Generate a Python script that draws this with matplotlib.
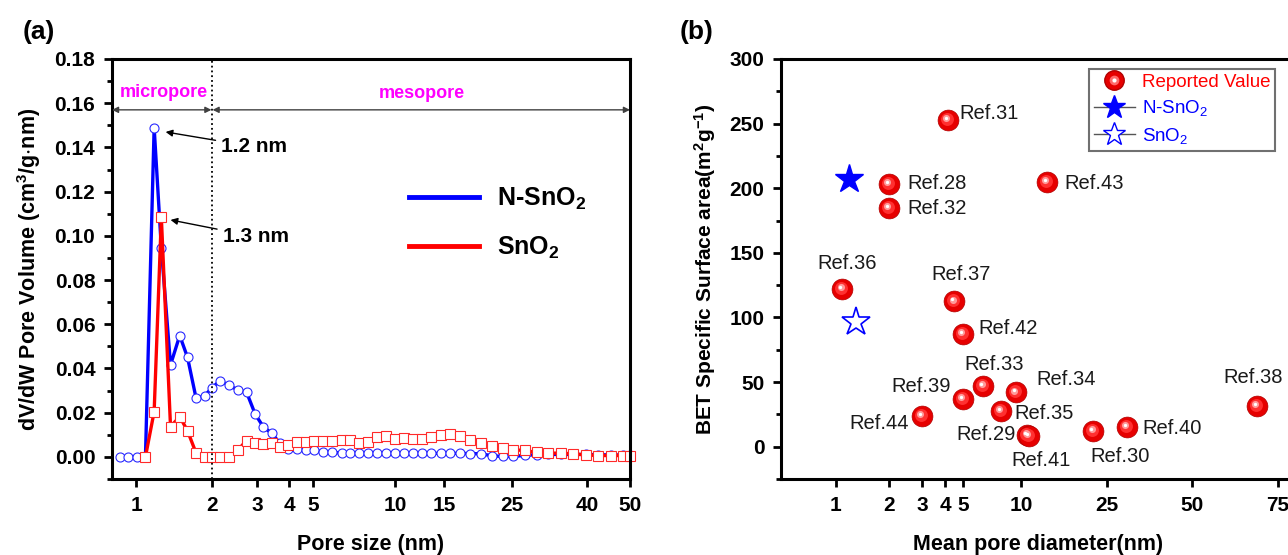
import numpy as np
import matplotlib
matplotlib.use("Agg")
import matplotlib.pyplot as plt
from matplotlib.lines import Line2D
from matplotlib.transforms import offset_copy
from matplotlib.legend_handler import HandlerTuple

plt.rcParams['font.family'] = ['Liberation Sans', 'DejaVu Sans']
plt.rcParams['mathtext.default'] = 'regular'

# ---- (a) pore size distribution ----
pore_size = [0.86, 0.93, 1.01, 1.09, 1.18, 1.26, 1.37, 1.49, 1.60, 1.73, 1.87, 2.00,
             2.15, 2.34, 2.52, 2.73, 2.95, 3.17, 3.42, 3.69, 3.98, 4.32, 4.69, 5.04,
             5.46, 5.87, 6.37, 6.84, 7.38, 7.96, 8.59, 9.27, 10.0, 10.8, 11.6, 12.5,
             13.5, 14.6, 15.7, 16.9, 18.2, 19.8, 21.5, 23.4, 25.2, 27.1, 29.2, 31.3,
             34.0, 36.6, 39.8, 42.4, 45.2, 48.2, 50.0]
dv_nsno2 = [0, 0, 0, 0, 0.149, 0.0945, 0.0416, 0.0549, 0.045, 0.0265, 0.0276, 0.0313,
            0.0344, 0.0323, 0.0303, 0.0293, 0.0194, 0.0137, 0.0107, 0.0062, 0.0036, 0.0036,
            0.0032, 0.0030, 0.0024, 0.0020, 0.0018, 0.0017, 0.0016, 0.0016, 0.0016, 0.0016,
            0.0016, 0.0016, 0.0016, 0.0016, 0.0016, 0.0016, 0.0016, 0.0016, 0.0015, 0.0014,
            0.0005, 0.0002, 0.0002, 0.0007, 0.0010, 0.0011, 0.0011, 0.0011, 0.0011, 0.0010,
            0.0009, 0.0009, 0.0009]
dv_sno2 = [0.0, 0.0205, 0.1084, 0.0137, 0.0182, 0.0118, 0.0017, 0.0, 0.0, 0.0, 0.0,
           0.003, 0.0074, 0.0065, 0.0059, 0.0062, 0.0044, 0.0054, 0.0069, 0.0069, 0.0074,
           0.0074, 0.0074, 0.0077, 0.0077, 0.0065, 0.0069, 0.0092, 0.0095, 0.008, 0.0084,
           0.008, 0.008, 0.0092, 0.0099, 0.0104, 0.0096, 0.0077, 0.0062, 0.0051, 0.0039,
           0.0032, 0.0029, 0.002, 0.0017, 0.0017, 0.0014, 0.0009, 0.0006, 0.0006, 0.0006,
           0.0006]

a_ticks = [1, 2, 3, 4, 5, 10, 15, 25, 40, 50]
# the x axis of (a) is not a plain log axis: anchor values and where they sit
a_scale_vals = [0.8, 1, 2, 3, 4, 5, 10, 15, 25, 40, 50]
a_scale_pos = [112, 136, 212, 257, 289, 313, 395, 444, 512, 587, 630]

# ---- (b) BET area vs mean pore diameter ----
refs = ['Ref.28', 'Ref.29', 'Ref.30', 'Ref.31', 'Ref.32', 'Ref.33', 'Ref.34', 'Ref.35',
        'Ref.36', 'Ref.37', 'Ref.38', 'Ref.39', 'Ref.40', 'Ref.41', 'Ref.42', 'Ref.43',
        'Ref.44']
mean_pore = [2.0, 10.7, 21.6, 4.14, 2.0, 6.37, 9.42, 7.85, 1.09, 4.49, 68, 5.0, 29.4,
             10.9, 5.0, 13.15, 3.0]
bet_area = [203.6, 9.0, 12.4, 252.7, 185, 47.3, 42.1, 27.9, 122.2, 112.6, 31.8, 37,
            15.5, 8.5, 87.4, 204.9, 24]
nsno2_pt = (1.19, 207.5)
sno2_pt = (1.30, 96.4)

b_ticks = [1, 2, 3, 4, 5, 10, 25, 50, 75]
b_scale_vals = [0.5, 1, 2, 3, 4, 5, 10, 25, 50, 75, 80]
b_scale_pos = [781, 835.7, 889, 922, 945, 963, 1021, 1107, 1192, 1277.5, 1295]

# label offsets in pixels (dx, dy, ha)
label_off = {
    'Ref.31': (12, 7, 'left'), 'Ref.28': (18, 0, 'left'), 'Ref.32': (18, -1, 'left'),
    'Ref.43': (18, -2, 'left'), 'Ref.36': (5, 25, 'center'), 'Ref.37': (7, 27, 'center'),
    'Ref.42': (15, 5, 'left'), 'Ref.33': (11, 21, 'center'), 'Ref.34': (20, 13, 'left'),
    'Ref.39': (-12, 12, 'right'), 'Ref.44': (-13, -8, 'right'), 'Ref.35': (14, -3, 'left'),
    'Ref.29': (-12, 1, 'right'), 'Ref.41': (12, -25, 'center'), 'Ref.30': (27, -26, 'center'),
    'Ref.40': (15, -2, 'left'), 'Ref.38': (-4, 28, 'center'),
}


def make_scale(vals, pos):
    lv = np.log10(vals)
    p = np.array(pos, float)

    def fwd(x):
        x = np.asarray(x, float)
        return np.interp(np.log10(np.clip(x, 1e-6, None)), lv, p)

    def inv(y):
        return 10 ** np.interp(y, p, lv)
    return fwd, inv


def style_axes(ax):
    for s in ax.spines.values():
        s.set_linewidth(2.2)
    ax.tick_params(direction='out', length=6, width=2, labelsize=15, pad=6)
    ax.tick_params(which='minor', direction='out', length=3.5, width=2)
    for lab in ax.get_xticklabels() + ax.get_yticklabels():
        lab.set_fontweight('bold')


fig = plt.figure(figsize=(12.88, 5.55), dpi=100)
W, H = 1288, 555

# ================= (a) =================
ax1 = fig.add_axes([112 / W, 1 - 479 / H, (630 - 112) / W, (479 - 59) / H])
ax1.set_xscale('function', functions=make_scale(a_scale_vals, a_scale_pos))
ax1.set_xlim(0.8, 50)
ax1.set_ylim(-0.01, 0.18)

ax1.plot(pore_size, dv_nsno2, '-', color='#0000ff', lw=2.4, marker='o', ms=6.5,
         mfc='white', mec='#2a2aff', mew=0.8, clip_on=False, label='N-SnO$_2$')
ax1.plot(pore_size[3:], dv_sno2, '-', color='#ff0000', lw=2.4, marker='s', ms=6.5,
         mfc='white', mec='#ff2a2a', mew=0.8, clip_on=False, label='SnO$_2$')

ax1.axvline(2, color='black', ls=':', lw=1.3)
arrow_kw = dict(arrowstyle='<|-|>', color='#404040', lw=1, mutation_scale=9,
                shrinkA=0, shrinkB=0)
ax1.annotate('', xy=(0.8, 0.157), xytext=(1.99, 0.157), arrowprops=arrow_kw)
ax1.annotate('', xy=(2.01, 0.157), xytext=(50, 0.157), arrowprops=arrow_kw)
ax1.text(1.29, 0.165, 'micropore', color='#ff00ff', fontsize=13, fontweight='bold',
         ha='center', va='center')
ax1.text(12.5, 0.1646, 'mesopore', color='#ff00ff', fontsize=13, fontweight='bold',
         ha='center', va='center')

ann_kw = dict(arrowstyle='-|>', color='black', lw=1, mutation_scale=10, shrinkA=2, shrinkB=0)
ax1.annotate('1.2 nm', xy=(1.31, 0.147), xytext=(2.17, 0.1403), fontsize=15,
             fontweight='bold', ha='left', va='center', arrowprops=ann_kw)
ax1.annotate('1.3 nm', xy=(1.37, 0.1072), xytext=(2.2, 0.0996), fontsize=15,
             fontweight='bold', ha='left', va='center', arrowprops=ann_kw)

leg1 = ax1.legend(handles=[Line2D([0], [0], color='#0000ff', lw=3.5),
                           Line2D([0], [0], color='#ff0000', lw=3.5)],
                  labels=['N-SnO$_2$', 'SnO$_2$'], loc='upper left',
                  bbox_to_anchor=(0.53, 0.752), frameon=False, handlelength=2.8,
                  handletextpad=0.7, labelspacing=0.9,
                  prop={'size': 18, 'weight': 'bold'})

ax1.set_xticks(a_ticks)
ax1.set_xticklabels([str(t) for t in a_ticks])
ax1.xaxis.set_minor_locator(matplotlib.ticker.NullLocator())
ax1.set_yticks(np.arange(0, 0.181, 0.02))
ax1.yaxis.set_major_formatter(matplotlib.ticker.FormatStrFormatter('%.2f'))
ax1.yaxis.set_minor_locator(matplotlib.ticker.MultipleLocator(0.01))
ax1.set_xlabel('Pore size (nm)', fontsize=15.5, fontweight='bold', labelpad=14)
ax1.set_ylabel('dV/dW Pore Volume (cm$^3$/g$\\cdot$nm)', fontsize=15.5,
               fontweight='bold', labelpad=8)
style_axes(ax1)
fig.text(23 / W, 1 - 32 / H, '(a)', fontsize=19, fontweight='bold', va='center')

# ================= (b) =================
ax2 = fig.add_axes([781 / W, 1 - 479 / H, (1295 - 781) / W, (479 - 59) / H])
ax2.set_xscale('function', functions=make_scale(b_scale_vals, b_scale_pos))
ax2.set_xlim(0.5, 80)
ax2.set_ylim(-25, 300)

ms = 15
ax2.scatter(mean_pore, bet_area, s=ms ** 2, color='#e60000', edgecolors='#b00000',
            linewidths=0.5, zorder=3)
shade = [(0.62, '#ff3030', -0.7, 0.7), (0.34, '#ff9a9a', -1.2, 1.2),
         (0.16, '#ffffff', -1.4, 1.4)]
for frac, col, dx, dy in shade:
    tr = offset_copy(ax2.transData, fig=fig, x=dx, y=dy, units='points')
    ax2.scatter(mean_pore, bet_area, s=(ms * frac) ** 2, color=col, linewidths=0,
                transform=tr, zorder=4)

ax2.plot(*nsno2_pt, marker='*', ms=21, color='#0000ff', ls='none', zorder=5)
ax2.plot(*sno2_pt, marker='*', ms=21, mfc='white', mec='#0000ff', mew=1.2,
         ls='none', zorder=5)

for name, x, y in zip(refs, mean_pore, bet_area):
    dx, dy, ha = label_off[name]
    ax2.annotate(name, xy=(x, y), xytext=(dx, dy), textcoords='offset pixels',
                 ha=ha, va='center', fontsize=14.5, color='#1a1a1a')

h_ref = (Line2D([0], [0], ls='none', marker='o', ms=14, mfc='#e60000', mec='#b00000'),
         Line2D([0], [0], ls='none', marker='o', ms=7, mfc='#ff6a6a', mec='none'),
         Line2D([0], [0], ls='none', marker='o', ms=3, mfc='white', mec='none'))
h_n = Line2D([0], [0], color='#555555', lw=1, marker='*', ms=17, mfc='#0000ff', mec='#0000ff')
h_s = Line2D([0], [0], color='#555555', lw=1, marker='*', ms=17, mfc='white', mec='#0000ff')
leg2 = ax2.legend([h_ref, h_n, h_s], ['Reported Value', 'N-SnO$_2$', 'SnO$_2$'],
                  handler_map={tuple: HandlerTuple(ndivide=1, pad=0)},
                  loc='upper left', bbox_to_anchor=((1089 - 781) / 514, (479 - 69) / 420),
                  borderaxespad=0, fancybox=False, framealpha=1, edgecolor='#707070',
                  handlelength=2.2, handletextpad=0.35, labelspacing=0.4,
                  borderpad=0.25, fontsize=13.5)
leg2.get_frame().set_linewidth(1.5)
for t, c in zip(leg2.get_texts(), ['#ff0000', '#0000ff', '#0000ff']):
    t.set_color(c)

ax2.set_xticks(b_ticks)
ax2.set_xticklabels([str(t) for t in b_ticks])
ax2.xaxis.set_minor_locator(matplotlib.ticker.NullLocator())
ax2.set_yticks(np.arange(0, 301, 50))
ax2.yaxis.set_minor_locator(matplotlib.ticker.MultipleLocator(25))
ax2.set_xlabel('Mean pore diameter(nm)', fontsize=15.5, fontweight='bold', labelpad=14)
ax2.set_ylabel('BET Specific Surface area(m$^2$g$^{-1}$)', fontsize=15,
               fontweight='bold', labelpad=8)
style_axes(ax2)
fig.text(680 / W, 1 - 32 / H, '(b)', fontsize=19, fontweight='bold', va='center')

fig.savefig('out.png', dpi=100)
